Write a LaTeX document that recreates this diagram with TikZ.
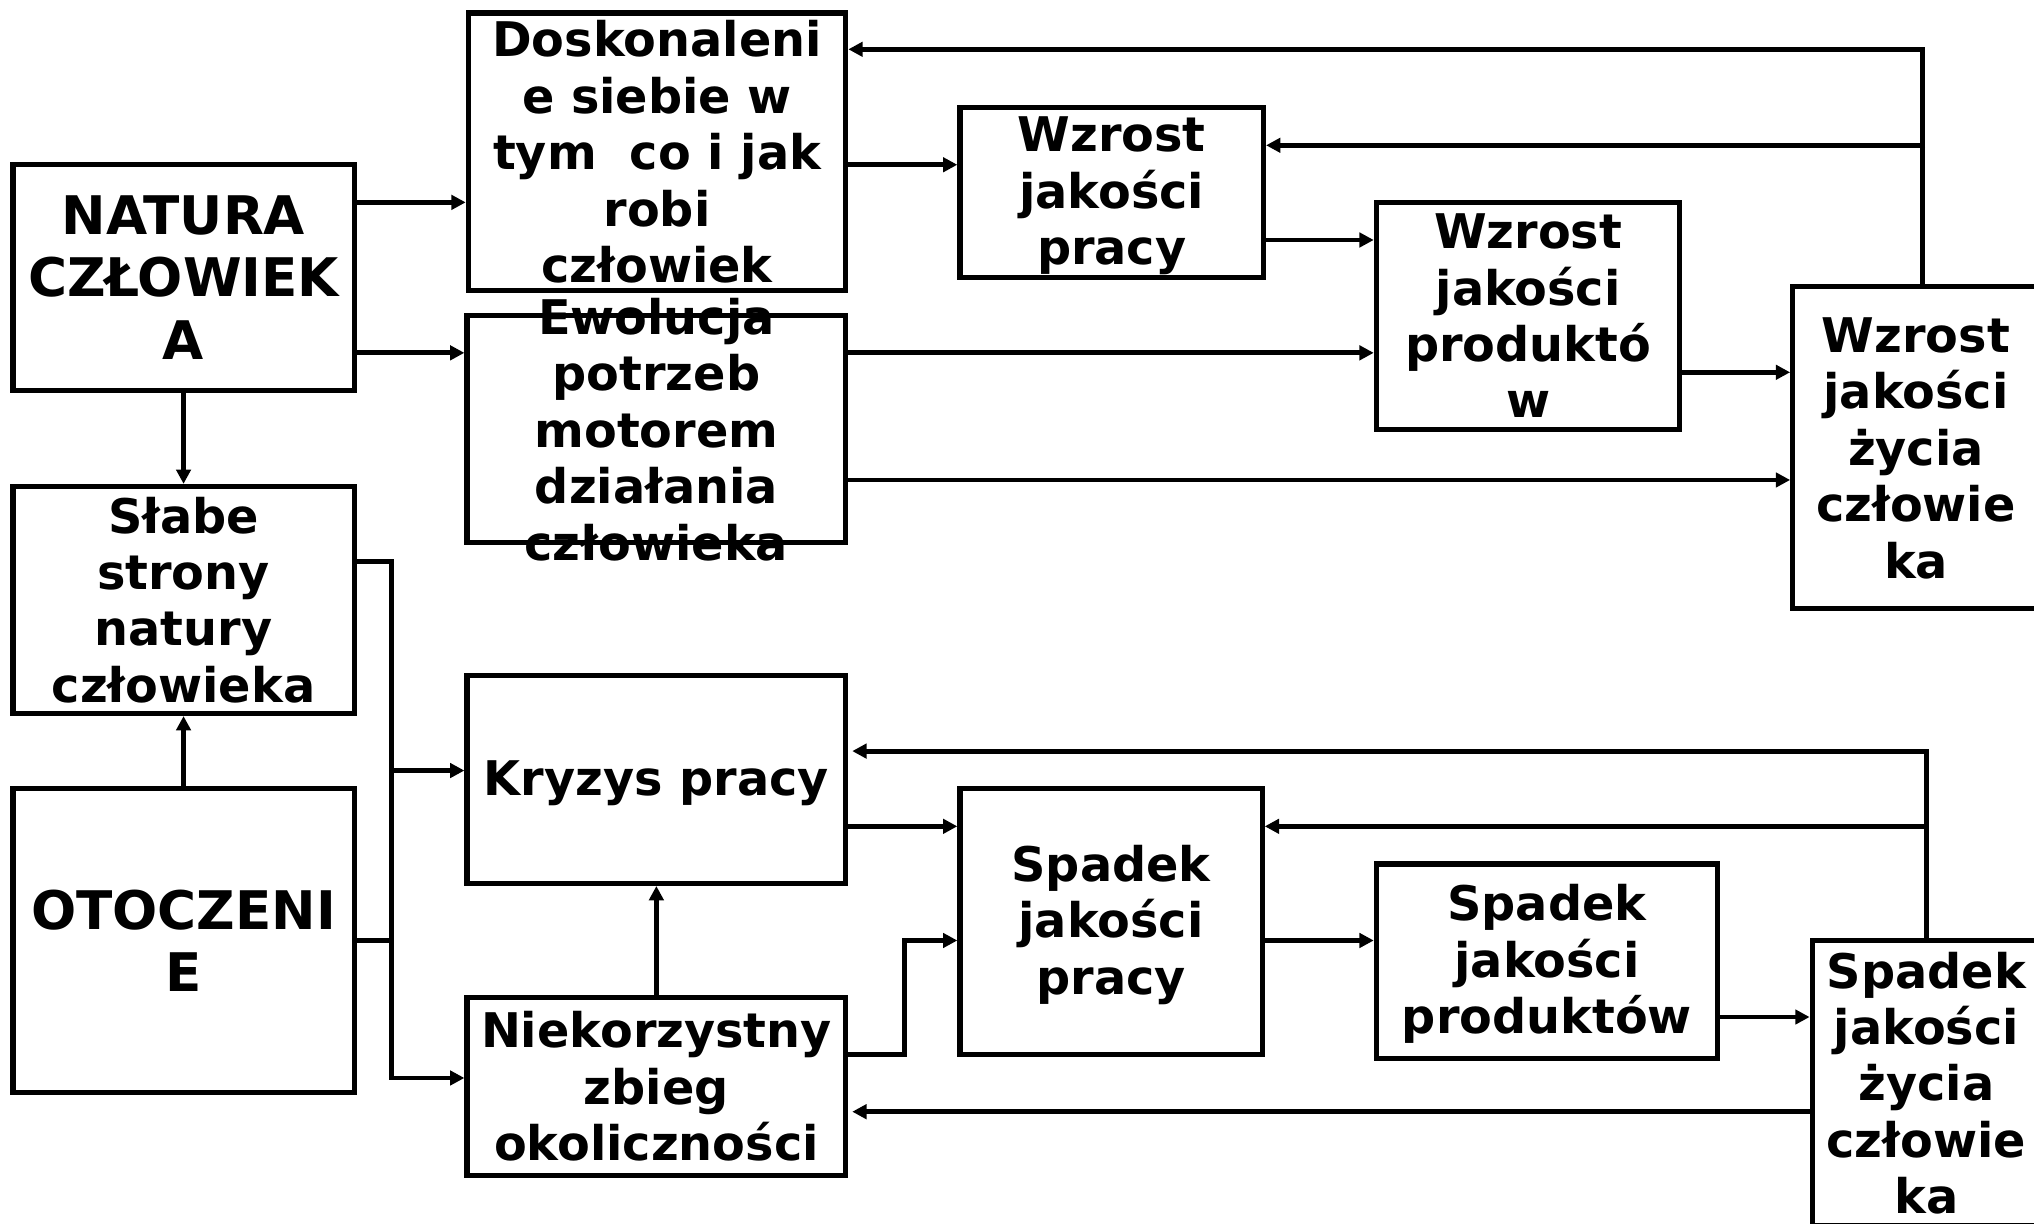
\documentclass[tikz,border=0pt]{standalone}
\usepackage{fontspec}
\setmainfont{DejaVu Sans}
\usetikzlibrary{arrows.meta}
\tikzset{
  boxn/.style={draw, line width=2pt, inner sep=0pt},
  txt/.style={align=center, inner sep=0pt, font=\bfseries\fontsize{18.4pt}{21.75pt}\selectfont},
  bigtxt/.style={align=center, inner sep=0pt, font=\bfseries\fontsize{20.5pt}{24pt}\selectfont},
  ln/.style={line width=1.9pt},
  arr/.style={line width=1.9pt, -{Triangle[length=5.5pt,width=5.5pt]}},
}
\begin{document}
\begin{tikzpicture}[x=0.5pt,y=-0.5pt]
\useasboundingbox (0,0) rectangle (1568,943);
\clip (0,0) rectangle (1568,943);
% texts
\node[bigtxt] (tnat) at (141.5,214) {NATURA\\CZŁOWIEK\\A};
\node[txt] (tslabe) at (141.5,462.5) {Słabe\\strony\\natury\\człowieka};
\node[bigtxt] (totocz) at (141.5,725) {OTOCZENI\\E};
\node[txt] (tdosk) at (506.5,117) {Doskonaleni\\e siebie w\\tym\ \ co i jak\\robi\\człowiek};
\node[txt] (tewol) at (506,331) {Ewolucja\\potrzeb\\motorem\\działania\\człowieka};
\node[txt] (tkryz) at (506,604) {Kryzys pracy};
\node[txt] (tniek) at (506,837.5) {Niekorzystny\\zbieg\\okoliczności};
\node[txt] (twpr) at (857,151) {Wzrost\\jakości\\pracy};
\node[txt] (twprod) at (1178,243.5) {Wzrost\\jakości\\produktó\\w};
\node[txt] (twzyc) at (1477,345.5) {Wzrost\\jakości\\życia\\człowie\\ka};
\node[txt] (tspr) at (856.5,713) {Spadek\\jakości\\pracy};
\node[txt] (tsprod) at (1192.5,743) {Spadek\\jakości\\produktów};
\node[txt] (tszyc) at (1485,835) {Spadek\\jakości\\życia\\człowie\\ka};
% boxes
\node[boxn, minimum width=131.5pt, minimum height=87pt] (nat) at (141.5,214) {};
\node[boxn, minimum width=131.5pt, minimum height=87.5pt] (slabe) at (141.5,462.5) {};
\node[boxn, minimum width=131.5pt, minimum height=117pt] (otocz) at (141.5,725) {};
\node[boxn, minimum width=145.5pt, minimum height=107pt] (dosk) at (506.5,117) {};
\node[boxn, minimum width=146pt, minimum height=87.5pt] (ewol) at (506,330.5) {};
\node[boxn, minimum width=146pt, minimum height=80pt] (kryz) at (506,601) {};
\node[boxn, minimum width=146pt, minimum height=68.5pt] (niek) at (506,837.5) {};
\node[boxn, minimum width=117pt, minimum height=65.5pt] (wpr) at (857,148.5) {};
\node[boxn, minimum width=117pt, minimum height=87.5pt] (wprod) at (1178,243.5) {};
\node[boxn, minimum width=95pt, minimum height=124pt] (wzyc) at (1477,345) {};
\node[boxn, minimum width=116.5pt, minimum height=102.5pt] (spr) at (856.5,710.5) {};
\node[boxn, minimum width=131.5pt, minimum height=75pt] (sprod) at (1192.5,741) {};
\node[boxn, minimum width=88pt, minimum height=110pt] (szyc) at (1485,835) {};
% junctions
\coordinate (j1) at (302,433);
\coordinate (j2) at (302,831);
\coordinate (j3) at (302,725);
\coordinate (j4) at (697,813);
\coordinate (j5) at (697,725);
\coordinate (t1) at (1482,38);
\coordinate (t2) at (1484,112);
\coordinate (b1) at (1485,579);
\coordinate (b2) at (1485,637);
% connectors top
\draw[arr] (nat.east |- 0,156) -- (dosk.west |- 0,156);
\draw[arr] (nat.east |- 0,272) -- (ewol.west |- 0,272);
\draw[arr] (nat.south) -- (slabe.north);
\draw[arr] (dosk.east |- 0,127) -- (wpr.west |- 0,127);
\draw[arr] (wpr.east |- 0,185) -- (wprod.west |- 0,185);
\draw[arr] (ewol.east |- 0,272) -- (wprod.west |- 0,272);
\draw[arr] (ewol.east |- 0,370) -- (wzyc.west |- 0,370);
\draw[arr] (wprod.east |- 0,287) -- (wzyc.west |- 0,287);
\draw[arr] (wzyc.north -| t1) -- (t1) -- (dosk.east |- t1);
\draw[arr] (t2) -- (wpr.east |- t2);
% connectors bottom
\draw[arr] (otocz.north) -- (slabe.south);
\draw[arr] (slabe.east |- j1) -- (j1) -- (j2) -- (niek.west |- j2);
\draw[ln] (otocz.east |- j3) -- (j3);
\draw[arr] (302,594) -- (kryz.west |- 0,594);
\draw[arr] (niek.north) -- (kryz.south);
\draw[arr] (kryz.east |- 0,637) -- (spr.west |- 0,637);
\draw[arr] (niek.east |- j4) -- (j4) -- (j5) -- (spr.west |- j5);
\draw[arr] (spr.east |- 0,725) -- (sprod.west |- 0,725);
\draw[arr] (sprod.east |- 0,784) -- (szyc.west |- 0,784);
\draw[arr] (szyc.north -| b1) -- (b1) -- ([xshift=1.5pt]kryz.east |- b1);
\draw[arr] (b2) -- (spr.east |- b2);
\draw[arr] (szyc.west |- 0,857) -- ([xshift=1.5pt]niek.east |- 0,857);
\end{tikzpicture}
\end{document}
